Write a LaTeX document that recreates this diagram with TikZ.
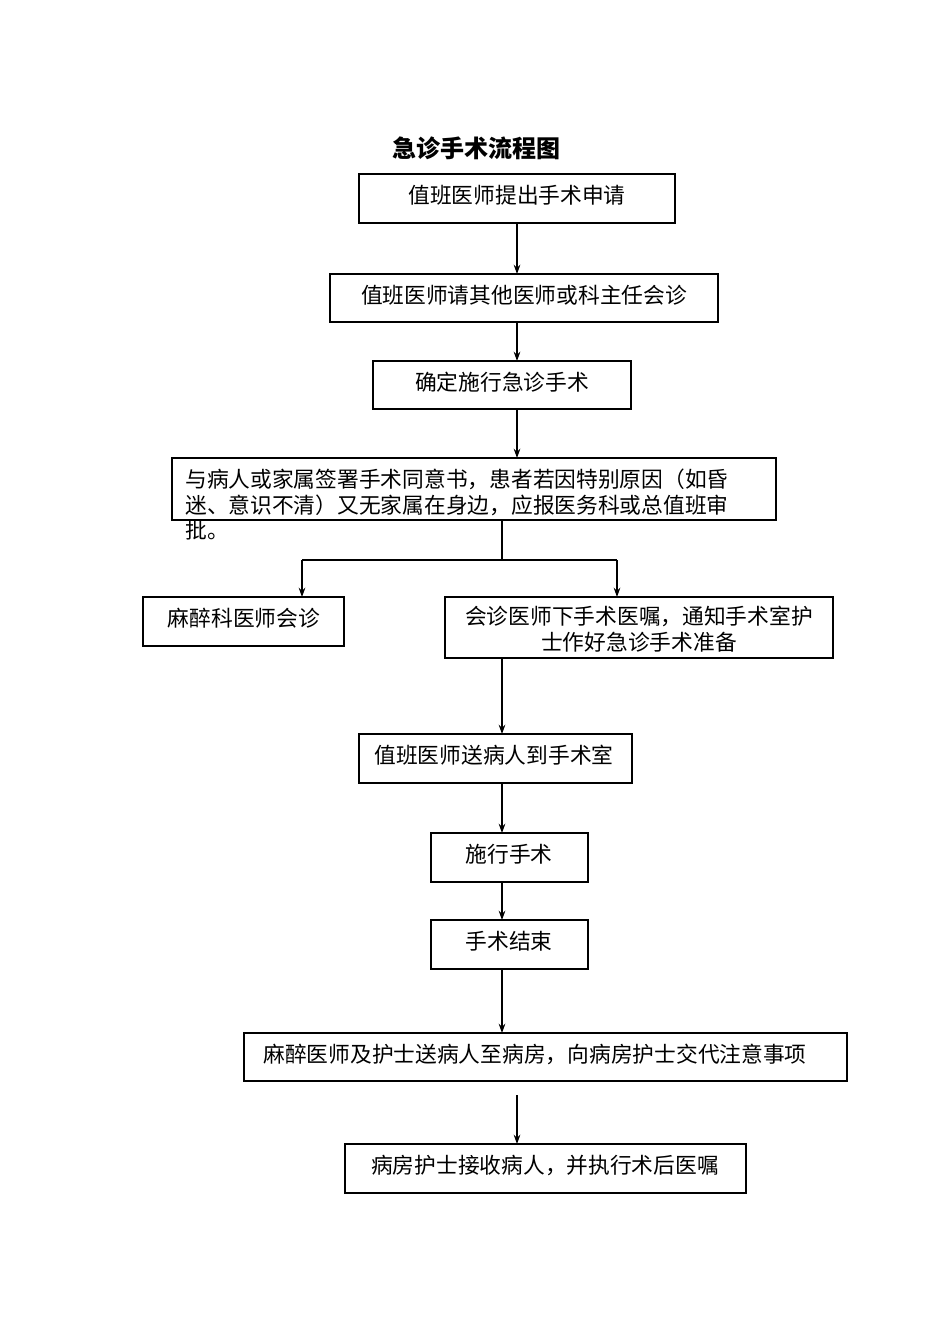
\documentclass[tikz,border=0pt]{standalone}
\usepackage{fontspec}
\newfontfamily\cjk{Noto Sans CJK SC}
\usetikzlibrary{arrows.meta}
\begin{document}
\begin{tikzpicture}[x=0.75pt,y=-0.75pt,
  bx/.style={draw,line width=0.8pt},
  tx/.style={font=\cjk\fontsize{16.3}{19}\selectfont,inner sep=0pt},
  ar/.style={-{Stealth[length=7pt,width=5pt]},line width=0.8pt}]
\useasboundingbox (0,0) rectangle (950,1344);
\node[tx,font=\cjk\bfseries\fontsize{18}{20}\selectfont] (t) at (476,148) {急诊手术流程图};
\draw[bx] (359,174) rectangle (675,223); \node[tx] (b1) at (517,195) {值班医师提出手术申请};
\draw[bx] (330,274) rectangle (718,322); \node[tx] (b2) at (524,295) {值班医师请其他医师或科主任会诊};
\draw[bx] (373,361) rectangle (631,409); \node[tx] (b3) at (502,382) {确定施行急诊手术};
\draw[bx] (172,458) rectangle (776,520);
\node[tx,anchor=north west,align=left] (b4) at (185,469) {与病人或家属签署手术同意书，患者若因特别原因（如昏\\迷、意识不清）又无家属在身边，应报医务科或总值班审\\批。};
\draw[bx] (143,597) rectangle (344,646); \node[tx] (b5) at (244,618) {麻醉科医师会诊};
\draw[bx] (445,597) rectangle (833,658); \node[tx,align=center] (b6) at (639,629) {会诊医师下手术医嘱，通知手术室护\\士作好急诊手术准备};
\draw[bx] (359,734) rectangle (632,783); \node[tx] (b7) at (494,755) {值班医师送病人到手术室};
\draw[bx] (431,833) rectangle (588,882); \node[tx] (b8) at (509,854) {施行手术};
\draw[bx] (431,920) rectangle (588,969); \node[tx] (b9) at (509,941) {手术结束};
\draw[bx] (244,1033) rectangle (847,1081); \node[tx] (b10) at (535,1054) {麻醉医师及护士送病人至病房，向病房护士交代注意事项};
\draw[bx] (345,1144) rectangle (746,1193); \node[tx] (b11) at (545,1165) {病房护士接收病人，并执行术后医嘱};
\coordinate (a1) at (517,223); \coordinate (a2) at (517,274);
\draw[ar] (a1) -- (a2);
\coordinate (a3) at (517,322); \coordinate (a4) at (517,361);
\draw[ar] (a3) -- (a4);
\coordinate (a5) at (517,409); \coordinate (a6) at (517,458);
\draw[ar] (a5) -- (a6);
\coordinate (s) at (502,520); \coordinate (j) at (502,560);
\coordinate (l) at (302,560); \coordinate (r) at (617,560);
\coordinate (l2) at (302,597); \coordinate (r2) at (617,597);
\draw[line width=0.8pt] (s) -- (j) (l) -- (r);
\draw[ar] (l) -- (l2); \draw[ar] (r) -- (r2);
\coordinate (c1) at (502,658); \coordinate (c2) at (502,734);
\draw[ar] (c1) -- (c2);
\coordinate (c3) at (502,783); \coordinate (c4) at (502,833);
\draw[ar] (c3) -- (c4);
\coordinate (c5) at (502,882); \coordinate (c6) at (502,920);
\draw[ar] (c5) -- (c6);
\coordinate (c7) at (502,969); \coordinate (c8) at (502,1033);
\draw[ar] (c7) -- (c8);
\coordinate (c9) at (517,1095); \coordinate (c10) at (517,1144);
\draw[ar] (c9) -- (c10);
\end{tikzpicture}
\end{document}
